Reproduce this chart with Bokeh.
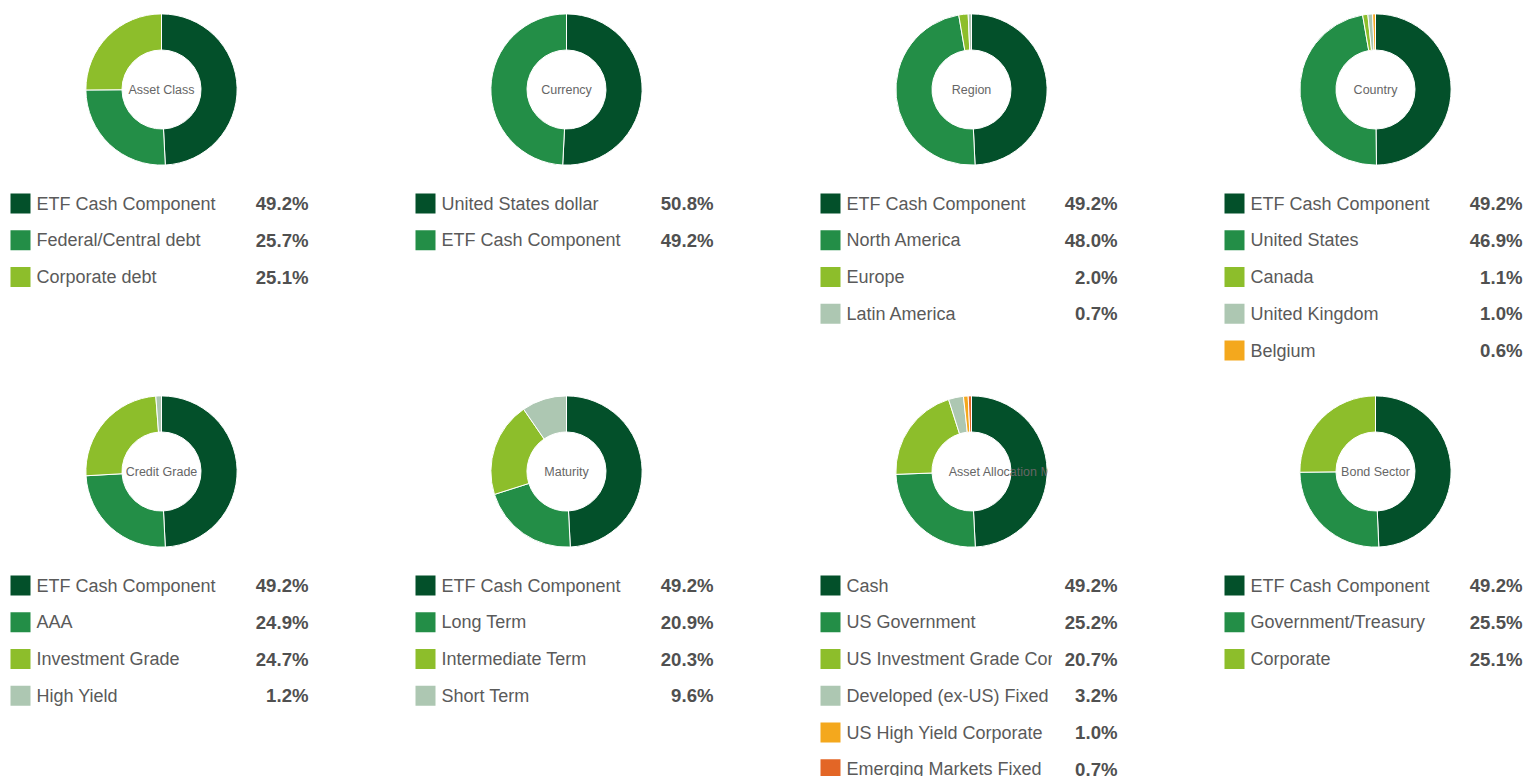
import numpy as np
from bokeh.plotting import figure
from bokeh.layouts import column, row
from bokeh.models import ColumnDataSource
from bokeh.embed import file_html
from bokeh.resources import INLINE
from bokeh.core.properties import value

# ---------------- data ----------------
titles = ["Asset Class", "Currency", "Region", "Country",
          "Credit Grade", "Maturity", "Asset Allocation Model", "Bond Sector"]

asset_class_labels = ["ETF Cash Component", "Federal/Central debt", "Corporate debt"]
asset_class_values = [49.2, 25.7, 25.1]

currency_labels = ["United States dollar", "ETF Cash Component"]
currency_values = [50.8, 49.2]

region_labels = ["ETF Cash Component", "North America", "Europe", "Latin America"]
region_values = [49.2, 48.0, 2.0, 0.7]

country_labels = ["ETF Cash Component", "United States", "Canada", "United Kingdom", "Belgium"]
country_values = [49.2, 46.9, 1.1, 1.0, 0.6]

credit_labels = ["ETF Cash Component", "AAA", "Investment Grade", "High Yield"]
credit_values = [49.2, 24.9, 24.7, 1.2]

maturity_labels = ["ETF Cash Component", "Long Term", "Intermediate Term", "Short Term"]
maturity_values = [49.2, 20.9, 20.3, 9.6]

allocation_labels = ["Cash", "US Government", "US Investment Grade Corporate",
                     "Developed (ex-US) Fixed", "US High Yield Corporate",
                     "Emerging Markets Fixed"]
allocation_values = [49.2, 25.2, 20.7, 3.2, 1.0, 0.7]

sector_labels = ["ETF Cash Component", "Government/Treasury", "Corporate"]
sector_values = [49.2, 25.5, 25.1]

all_labels = [asset_class_labels, currency_labels, region_labels, country_labels,
              credit_labels, maturity_labels, allocation_labels, sector_labels]
all_values = [asset_class_values, currency_values, region_values, country_values,
              credit_values, maturity_values, allocation_values, sector_values]

palette = ["#03502A", "#238E47", "#8DBE2B", "#ADC7B2", "#F4A81D", "#E36626"]

# ---------------- style ----------------
FONT = "Liberation Sans"
LABEL_COLOR = "#5a5a5a"
VALUE_COLOR = "#505050"
CENTER_COLOR = "#666666"
LABEL_FONT = "18px"
VALUE_FONT = "18.6px"
cell_widths = [413, 404, 405, 303]
donut_left = [85, 77, 78, 77]
square_left = [10, 2, 3, 2]
value_right = [308, 300, 300, 300]
DONUT = 152
donut_top = [13, 5]
leg_h = [225, 229]
LABEL_CLIP = 232          # label column width measured from the square's left edge
ROW_STEP = 36.75
FIRST_ROW_Y = 38
INNER = 0.52
center_align = ["center", "center", "center", "center", "center", "center", "left", "center"]
center_x = [0, 0, 0, 0, 0, 0, -0.30, 0]


def donut_fig(k, col, top):
    w = cell_widths[col]
    p = figure(width=w, height=DONUT + top, x_range=(-1, 1), y_range=(-1, 1),
               x_axis_type=None, y_axis_type=None, toolbar_location=None,
               output_backend="svg", min_border_left=donut_left[col],
               min_border_right=w - donut_left[col] - DONUT, min_border_top=top,
               min_border_bottom=0, outline_line_color=None)
    p.grid.visible = False
    vals = np.array(all_values[k], dtype=float)
    frac = vals / vals.sum()
    cum = np.concatenate([[0], np.cumsum(frac)])
    start = np.pi / 2 - 2 * np.pi * cum[:-1]
    end = np.pi / 2 - 2 * np.pi * cum[1:]
    src = ColumnDataSource(dict(start=start, end=end, color=palette[:len(vals)]))
    p.annular_wedge(x=0, y=0, inner_radius=INNER, outer_radius=0.995,
                    start_angle="start", end_angle="end", direction="clock",
                    fill_color="color", line_color="white", line_width=1,
                    source=src)
    p.text(x=[center_x[k]], y=[0], text=[titles[k]], text_align=center_align[k],
           text_baseline="middle", text_font=value(FONT), text_font_size="12.5px",
           text_color=CENTER_COLOR)
    return p


def legend_figs(k, col, h):
    w = cell_widths[col]
    labels = all_labels[k]
    vals = all_values[k]
    n = len(labels)
    ys = [FIRST_ROW_Y + i * ROW_STEP for i in range(n)]
    sq = square_left[col]
    lw = sq + LABEL_CLIP
    pl = figure(width=lw, height=h, x_range=(0, lw), y_range=(h, 0),
                x_axis_type=None, y_axis_type=None, toolbar_location=None,
                output_backend="svg", min_border=0, outline_line_color=None)
    pl.grid.visible = False
    pl.rect(x=[sq + 10] * n, y=ys, width=20, height=20, fill_color=palette[:n],
            line_color=None)
    pl.text(x=[sq + 26] * n, y=ys, text=labels, text_align="left", text_baseline="middle",
            text_font=value(FONT), text_font_size=LABEL_FONT, text_color=LABEL_COLOR)
    vw = w - lw
    pv = figure(width=vw, height=h, x_range=(0, vw), y_range=(h, 0),
                x_axis_type=None, y_axis_type=None, toolbar_location=None,
                output_backend="svg", min_border=0, outline_line_color=None)
    pv.grid.visible = False
    vx = value_right[col] - lw
    pv.text(x=[vx] * n, y=ys, text=[f"{v:.1f}%" for v in vals], text_align="right",
            text_baseline="middle", text_font=value(FONT), text_font_size=VALUE_FONT,
            text_font_style="bold", text_color=VALUE_COLOR)
    return row(pl, pv, spacing=0)


blocks = []
for r in range(2):
    blocks.append(row(*[donut_fig(r * 4 + c, c, donut_top[r]) for c in range(4)], spacing=0))
    blocks.append(row(*[legend_figs(r * 4 + c, c, leg_h[r]) for c in range(4)], spacing=0))

layout = column(*blocks, spacing=0)

open("out.html", "w").write(file_html(layout, INLINE))
